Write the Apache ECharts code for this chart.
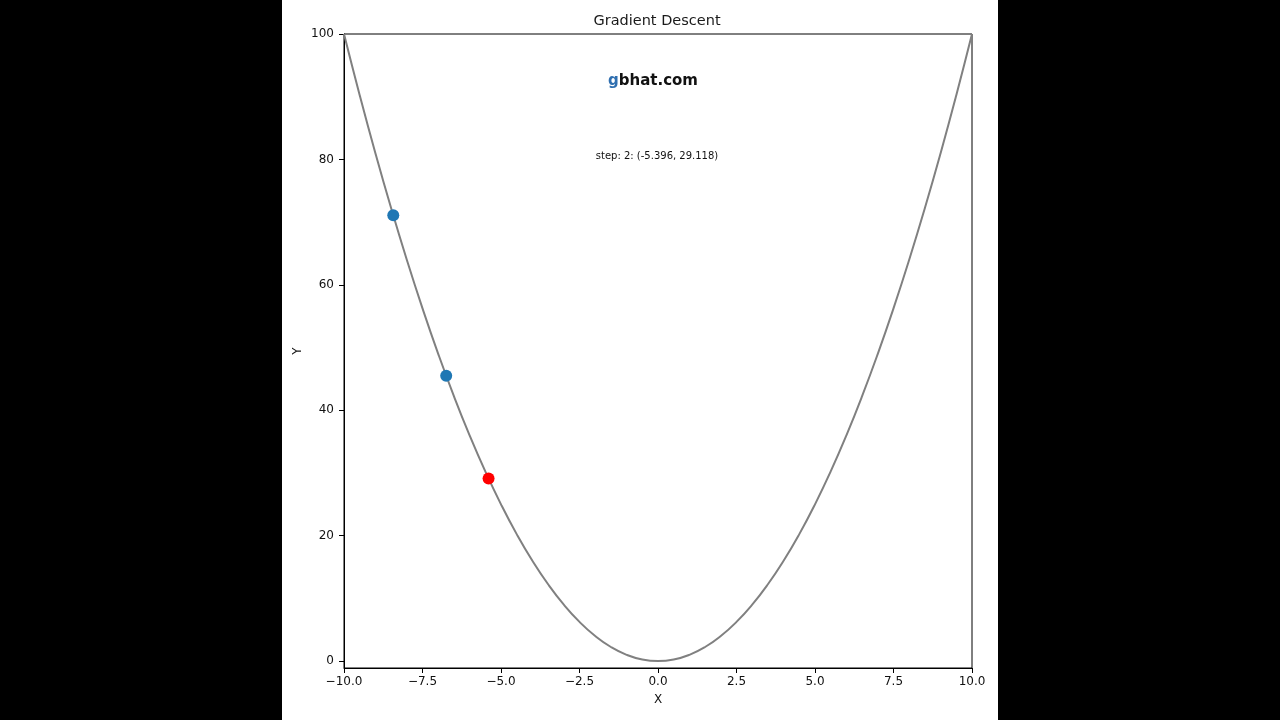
<!DOCTYPE html>
<html>
<head>
<meta charset="utf-8">
<script src="https://cdn.jsdelivr.net/npm/echarts@6/dist/echarts.min.js"></script>
<style>
html,body{margin:0;padding:0;background:#000;}
#chart{width:1280px;height:720px;}
</style>
</head>
<body>
<div id="chart"></div>
<script>
// Curve values (x, y)
const curveX = [-10,-9.5,-9,-8.5,-8,-7.5,-7,-6.5,-6,-5.5,-5,-4.5,-4,-3.5,-3,-2.5,-2,-1.5,-1,-0.5,0,0.5,1,1.5,2,2.5,3,3.5,4,4.5,5,5.5,6,6.5,7,7.5,8,8.5,9,9.5,10];
const curveY = [100,90.25,81,72.25,64,56.25,49,42.25,36,30.25,25,20.25,16,12.25,9,6.25,4,2.25,1,0.25,0,0.25,1,2.25,4,6.25,9,12.25,16,20.25,25,30.25,36,42.25,49,56.25,64,72.25,81,90.25,100];
// Gradient descent steps
const pastX = [-8.431, -6.745];
const pastY = [71.08, 45.50];
const currentX = [-5.396];
const currentY = [29.118];
const titleText = "Gradient Descent";
const annotation = "step: 2: (-5.396, 29.118)";
const watermarkA = "g";
const watermarkB = "bhat.com";
// Ticks
const xTicks = [-10,-7.5,-5,-2.5,0,2.5,5,7.5,10];
const xTickLabels = ["\u221210.0","\u22127.5","\u22125.0","\u22122.5","0.0","2.5","5.0","7.5","10.0"];
const yTicks = [0,20,40,60,80,100];
const yTickLabels = ["0","20","40","60","80","100"];

const zip = (a,b) => a.map((v,i)=>[v,b[i]]);
const chart = echarts.init(document.getElementById('chart'), null, {renderer:'canvas'});
const font = 'DejaVu Sans';
const option = {
  backgroundColor: '#000',
  animation: false,
  graphic: [
    {type:'rect', z:-10, silent:true, shape:{x:282,y:0,width:716,height:720}, style:{fill:'#fff'}},
    {type:'text', z:100, x:657, y:21, style:{
      text: titleText, align:'center', verticalAlign:'middle',
      fill:'#1a1a1a', font:'14.5px "DejaVu Sans"'
    }},
    {type:'text', z:100, x:653, y:81, style:{
      text: '{g|' + watermarkA + '}{b|' + watermarkB + '}',
      align:'center', verticalAlign:'middle',
      rich: {
        g: {fill:'#2f6fb0', font:'bold 15px "DejaVu Sans"'},
        b: {fill:'#111', font:'bold 15px "DejaVu Sans"'}
      }
    }},
    {type:'text', z:100, x:657, y:156, style:{
      text: annotation, align:'center', verticalAlign:'middle',
      fill:'#111', font:'10px "DejaVu Sans"'
    }}
  ],
  grid: {left:344, right:308, top:34, bottom:52, show:true, borderColor:'#000', borderWidth:1, backgroundColor:'transparent'},
  xAxis: {
    type:'value', min:-10, max:10, interval:2.5,
    name:'X', nameLocation:'middle', nameGap:26,
    nameTextStyle:{fontFamily:font, fontSize:12, color:'#111'},
    axisLine:{show:true, onZero:false, lineStyle:{color:'#000', width:1}},
    axisTick:{show:true, inside:false, length:5, lineStyle:{color:'#000'}},
    axisLabel:{fontFamily:font, fontSize:12, color:'#111', margin:8,
      formatter: v => { const i = xTicks.indexOf(v); return i>=0 ? xTickLabels[i] : ''; }},
    splitLine:{show:false}
  },
  yAxis: {
    type:'value', min:-1.1, max:100,
    name:'Y', nameLocation:'middle', nameGap:40, nameRotate:90,
    nameTextStyle:{fontFamily:font, fontSize:12, color:'#111'},
    axisLine:{show:true, onZero:false, lineStyle:{color:'#000', width:1}},
    axisTick:{show:true, inside:false, length:5, lineStyle:{color:'#000'}, customValues: yTicks},
    axisLabel:{fontFamily:font, fontSize:12, color:'#111', margin:10, customValues: yTicks,
      formatter: v => { const i = yTicks.indexOf(v); return i>=0 ? yTickLabels[i] : ''; }},
    splitLine:{show:false}
  },
  series: [
    {type:'line', data: zip(curveX, curveY), smooth:true, showSymbol:false,
     lineStyle:{color:'#808080', width:2}, z:2, clip:true},
    {type:'scatter', data: zip(pastX, pastY), symbolSize:12,
     itemStyle:{color:'#1f77b4', opacity:1}, z:3},
    {type:'scatter', data: zip(currentX, currentY), symbolSize:12,
     itemStyle:{color:'#ff0000', opacity:1}, z:4}
  ]
};
chart.setOption(option);
</script>
</body>
</html>
